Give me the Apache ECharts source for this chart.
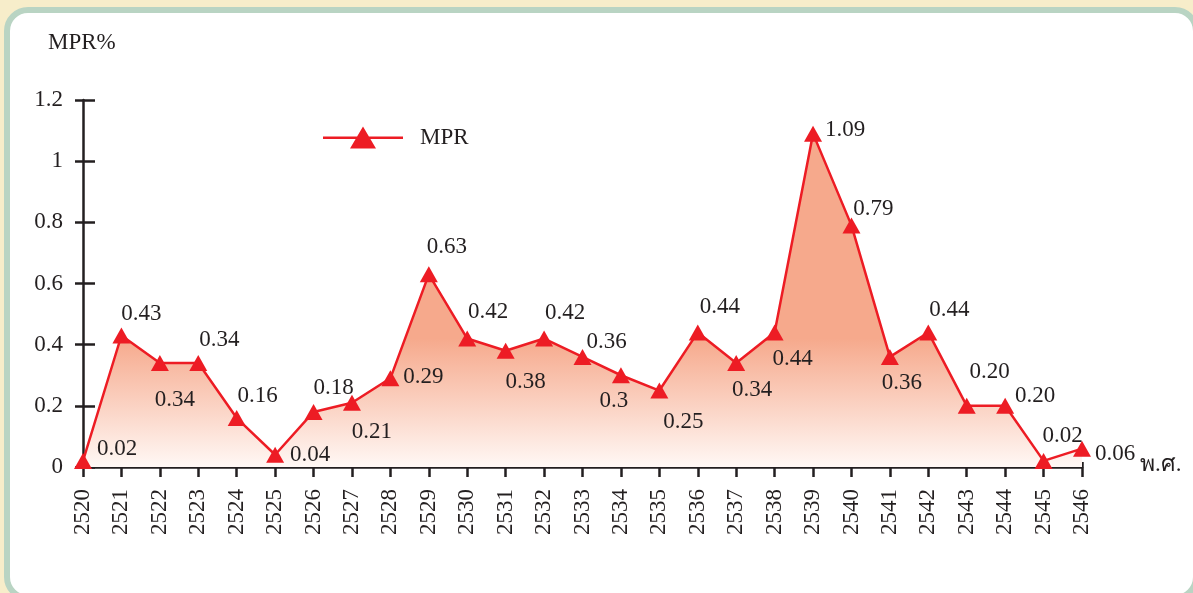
<!DOCTYPE html>
<html>
<head>
<meta charset="utf-8">
<script src="https://cdn.jsdelivr.net/npm/echarts@6/dist/echarts.min.js"></script>
<style>
  html, body { margin: 0; padding: 0; width: 1193px; height: 593px; overflow: hidden; background: #f7edca; }
  #panel {
    position: absolute; left: 4px; top: 7px; width: 1195px; height: 594px;
    box-sizing: border-box; border: 6px solid #b9d4c3; border-radius: 24px; background: #ffffff;
  }
  #chart { position: absolute; left: 0; top: 0; width: 1193px; height: 593px; }
</style>
</head>
<body>
<div id="panel"></div>
<div id="chart"></div>
<script>
// Years (Buddhist era) on the horizontal axis
const years = ['2520','2521','2522','2523','2524','2525','2526','2527','2528','2529','2530','2531','2532','2533',
               '2534','2535','2536','2537','2538','2539','2540','2541','2542','2543','2544','2545','2546'];

// MPR % per year, written as printed on the point labels
const mprText = ['0.02','0.43','0.34','0.34','0.16','0.04','0.18','0.21','0.29','0.63','0.42','0.38','0.42','0.36',
                 '0.3','0.25','0.44','0.34','0.44','1.09','0.79','0.36','0.44','0.20','0.20','0.02','0.06'];
const mprValues = mprText.map(Number);

// Y axis scale
const yMin = 0, yMax = 1.2, yStep = 0.2;

// Where each value label sits relative to its point [dx, dy]
const labelShift = [
  [34,-12],[20,-22],[15,37],[21,-23],[21,-22],[35,0],[20,-24],[20,29],[33,-1],[18,-27],
  [21,-27],[20,31],[21,-26],[24,-15],[-7,26],[24,31],[22,-25],[16,27],[18,27],[32,-4],
  [22,-16],[12,26],[21,-22],[23,-34],[30,-10],[19,-25],[33,5]
];

const serif = '"Liberation Serif", "DejaVu Serif", serif';
const ink = '#231f20';
const red = '#ed1c24';
const salmon = '#f6a98c';

// Legend key: a red line with a large triangle on it
const legendIcon = 'path://M0,10 L80,10 L80,12.5 L0,12.5 Z M27,22 L40,0 L53,22 Z';

const chart = echarts.init(document.getElementById('chart'), null, { renderer: 'canvas' });

const seriesData = mprValues.map((v, i) => ({
  value: v,
  label: {
    show: true,
    position: 'inside',
    offset: labelShift[i],
    formatter: () => mprText[i],
    color: ink,
    fontFamily: serif,
    fontSize: 23
  }
}));

const option = {
  backgroundColor: 'transparent',
  animation: false,
  grid: { left: 83, right: 111, top: 100, bottom: 126, containLabel: false },
  legend: {
    left: 318, top: 121,
    itemWidth: 80, itemHeight: 22,
    data: [{ name: 'MPR', icon: legendIcon }],
    textStyle: { color: ink, fontFamily: serif, fontSize: 23, padding: [0, 0, 0, 12] }
  },
  xAxis: [
    {
      type: 'category', data: years, boundaryGap: false,
      axisLine: { show: true, lineStyle: { color: ink, width: 2.5 } },
      axisTick: { show: true, alignWithLabel: true, length: 10, lineStyle: { color: ink, width: 2.5 } },
      axisLabel: { rotate: 90, margin: 22, color: ink, fontFamily: serif, fontSize: 23, interval: 0 },
      splitLine: { show: false }
    },
    {
      type: 'category', data: years, boundaryGap: false, position: 'bottom',
      axisLine: { show: false },
      axisTick: { show: true, inside: true, length: 5, lineStyle: { color: ink, width: 2.5 } },
      axisLabel: { show: false },
      splitLine: { show: false }
    }
  ],
  yAxis: [
    {
      type: 'value', min: yMin, max: yMax, interval: yStep,
      axisLine: { show: true, lineStyle: { color: ink, width: 2.5 } },
      axisTick: { show: true, length: 8, lineStyle: { color: ink, width: 2.5 } },
      axisLabel: { margin: 20, color: ink, fontFamily: serif, fontSize: 23 },
      splitLine: { show: false }
    },
    {
      type: 'value', min: yMin, max: yMax, interval: yStep, position: 'left',
      axisLine: { show: false },
      axisTick: { show: true, inside: true, length: 12, lineStyle: { color: ink, width: 2.5 } },
      axisLabel: { show: false },
      splitLine: { show: false }
    }
  ],
  graphic: [
    { type: 'text', left: 48, top: 31, style: { text: 'MPR%', fill: ink, font: '23px ' + serif } },
    { type: 'text', left: 1140, top: 453, style: { text: 'พ.ศ.', fill: ink, font: '23px ' + serif } }
  ],
  series: [
    {
      name: 'MPR',
      type: 'line',
      data: seriesData,
      symbol: 'triangle',
      symbolSize: [18, 16],
      itemStyle: { color: red },
      lineStyle: { color: red, width: 2.5 },
      areaStyle: { color: salmon, opacity: 1 },
      z: 3
    }
  ]
};

chart.setOption(option);

// Area fill: solid salmon in the upper part, fading to white towards the zero line
const fadeTop = chart.convertToPixel({ yAxisIndex: 0 }, 0.42);
const fadeBottom = chart.convertToPixel({ yAxisIndex: 0 }, 0);
chart.setOption({
  series: [{
    areaStyle: {
      opacity: 1,
      color: new echarts.graphic.LinearGradient(0, fadeTop, 0, fadeBottom, [
        { offset: 0, color: salmon },
        { offset: 1, color: '#fff8f5' }
      ], true)
    }
  }]
});
</script>
</body>
</html>
